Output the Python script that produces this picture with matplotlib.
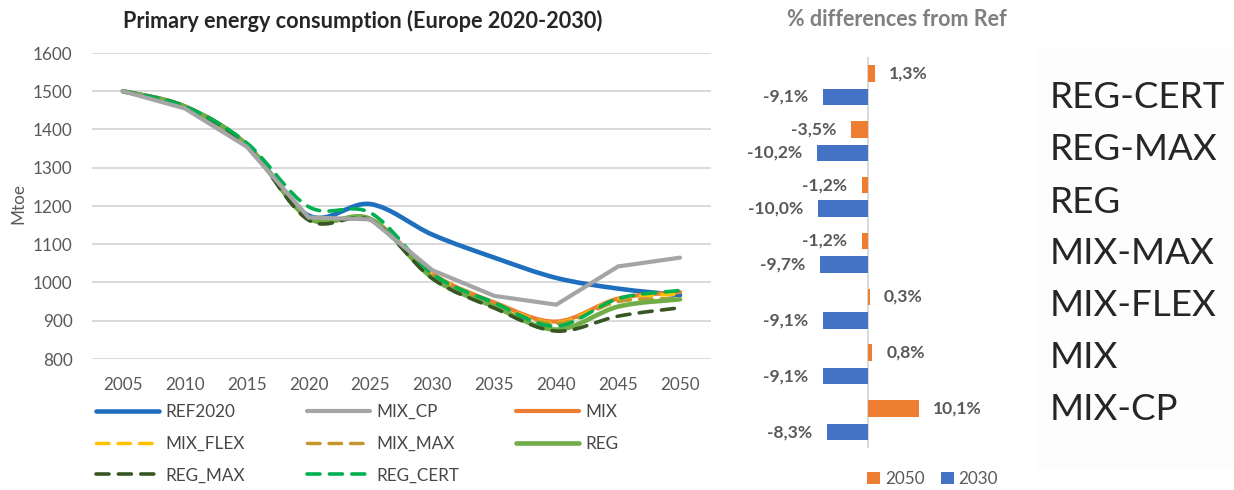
import numpy as np
import matplotlib
matplotlib.use('Agg')
import matplotlib.pyplot as plt
from matplotlib.path import Path
from matplotlib.patches import PathPatch, Rectangle
from matplotlib.lines import Line2D

plt.rcParams['font.family'] = ['Lato', 'DejaVu Sans']

# ---------------- data ----------------
years = ['2005', '2010', '2015', '2020', '2025', '2030', '2035', '2040', '2045', '2050']
ref2020 = [1500, 1460, 1360, 1175, 1205, 1125, 1065, 1012, 984, 967]
mix_cp = [1500, 1455, 1355, 1170, 1165, 1032, 965, 942, 1042, 1065]
mix = [1500, 1460, 1360, 1168, 1166, 1023, 948, 898, 958, 975]
mix_flex = [1500, 1460, 1360, 1168, 1166, 1023, 946, 895, 956, 970]
mix_max = [1500, 1460, 1360, 1168, 1166, 1016, 943, 893, 950, 958]
reg = [1500, 1460, 1360, 1168, 1166, 1012, 937, 877, 937, 956]
reg_max = [1500, 1460, 1358, 1163, 1163, 1010, 933, 873, 912, 934]
reg_cert = [1500, 1460, 1365, 1198, 1182, 1023, 947, 886, 958, 979]

series_names = ['REF2020', 'MIX_CP', 'MIX', 'MIX_FLEX', 'MIX_MAX', 'REG', 'REG_MAX', 'REG_CERT']

scenarios = ['REG-CERT', 'REG-MAX', 'REG', 'MIX-MAX', 'MIX-FLEX', 'MIX', 'MIX-CP']
diff_2050 = [1.3, -3.5, -1.2, -1.2, 0.3, 0.8, 10.1]
diff_2030 = [-9.1, -10.2, -10.0, -9.7, -9.1, -9.1, -8.3]

# ---------------- figure ----------------
W, H = 1234, 490
fig = plt.figure(figsize=(W / 100, H / 100), dpi=100)
fig.patch.set_facecolor('white')

def fx(px):
    return px / W

def fy(py):
    return 1 - py / H

GRAY_TXT = '#595959'
FS = 12.3

# ---------------- line chart ----------------
ax = fig.add_axes([fx(92), fy(359), fx(711) - fx(92), fy(53) - fy(359)])
x = np.arange(len(years))
ax.set_xlim(-0.5, len(years) - 0.5)
ax.set_ylim(800, 1600)
ax.set_yticks(np.arange(800, 1601, 100))
ax.set_xticks(x)
ax.set_xticklabels(years)
ax.grid(axis='y', color='#d9d9d9', lw=1.4)
ax.set_axisbelow(True)
for s in ax.spines.values():
    s.set_visible(False)
ax.tick_params(axis='both', length=0, labelsize=FS, labelcolor=GRAY_TXT)
ax.tick_params(axis='y', pad=14)
ax.tick_params(axis='x', pad=13)


def smooth_path(xs, ys):
    xs = np.asarray(xs, float)
    ys = np.asarray(ys, float)
    n = len(xs)
    pts = np.column_stack([xs, ys])
    verts = [tuple(pts[0])]
    codes = [Path.MOVETO]
    for i in range(n - 1):
        p0 = pts[max(i - 1, 0)]
        p1 = pts[i]
        p2 = pts[i + 1]
        p3 = pts[min(i + 2, n - 1)]
        c1 = p1 + (p2 - p0) / 6.0
        c2 = p2 - (p3 - p1) / 6.0
        verts += [tuple(c1), tuple(c2), tuple(p2)]
        codes += [Path.CURVE4] * 3
    return Path(verts, codes)

DASH = (0, (3.6, 2.6))
styles = [
    (ref2020, '#1f6fbf', 3.3, '-', True),
    (mix_cp, '#a5a5a5', 3.0, '-', False),
    (mix, '#ed7d31', 3.0, '-', True),
    (mix_flex, '#ffc000', 2.5, DASH, True),
    (mix_max, '#c4962e', 2.5, DASH, True),
    (reg, '#70ad47', 3.3, '-', True),
    (reg_max, '#375623', 2.6, DASH, True),
    (reg_cert, '#00b050', 2.6, DASH, True),
]

handles = []
for (vals, col, lw, ls, smooth), name in zip(styles, series_names):
    if smooth:
        patch = PathPatch(smooth_path(x, vals), fill=False, edgecolor=col, lw=lw,
                          linestyle=ls, capstyle='round', joinstyle='round')
        ax.add_patch(patch)
    else:
        ax.plot(x, vals, color=col, lw=lw, ls=ls, solid_capstyle='round',
                solid_joinstyle='miter')
    handles.append(Line2D([], [], color=col, lw=lw, ls=ls, solid_capstyle='round',
                          dash_capstyle='round', label=name))

fig.text(fx(18), fy(203), 'Mtoe', rotation=90, ha='center', va='center',
         fontsize=FS, color=GRAY_TXT)
fig.text(fx(363), fy(21), 'Primary energy consumption (Europe 2020-2030)',
         ha='center', va='center', fontsize=15.6, fontweight='bold', color='#262626')

# legend in three columns
col_x = [96, 307, 516]
for c in range(3):
    hs = handles[c::3]
    leg = ax.legend(handles=hs, loc='upper left',
                    bbox_to_anchor=(fx(col_x[c]), fy(404)),
                    bbox_transform=fig.transFigure, frameon=False, ncol=1,
                    fontsize=FS, handlelength=3.7, handletextpad=0.35,
                    borderpad=0, borderaxespad=0, labelspacing=0.92,
                    labelcolor='#474747')
    if c < 2:
        ax.add_artist(leg)

# ---------------- bar chart ----------------
zero_px = 868
px_per_pct = 5.0
left_px, right_px = 740, 1010
ax2 = fig.add_axes([fx(left_px), fy(448), fx(right_px) - fx(left_px), fy(57) - fy(448)])
ax2.set_xlim((left_px - zero_px) / px_per_pct, (right_px - zero_px) / px_per_pct)
ax2.set_ylim(len(scenarios) - 0.5, -0.5)
ax2.axis('off')
ax2.axvline(0, color='#d9d9d9', lw=1.4, zorder=0)

yy = np.arange(len(scenarios))
bh = 0.295
b50 = ax2.barh(yy - 0.206, diff_2050, height=bh, color='#ed7d31', label='2050', zorder=2)
b30 = ax2.barh(yy + 0.215, diff_2030, height=bh, color='#4472c4', label='2030', zorder=2)


def lab(v):
    return f'{v:.1f}'.replace('.', ',') + '%'

for vals, offs in ((diff_2050, -0.206), (diff_2030, 0.215)):
    for i, v in enumerate(vals):
        sgn = 1 if v >= 0 else -1
        ax2.annotate(lab(v), (v, i + offs), xytext=(sgn * 10.5, 0), textcoords='offset points',
                     ha='left' if v >= 0 else 'right', va='center', fontsize=12.6,
                     fontweight='bold', color=GRAY_TXT)

fig.text(fx(787), fy(20), '% differences from Ref', ha='left', va='center',
         fontsize=15.5, fontweight='bold', color='#7f7f7f')

fig.legend(handles=[b50, b30], loc='center left', bbox_to_anchor=(fx(867), fy(479)),
           frameon=False, ncol=2, fontsize=FS, handlelength=0.75, handleheight=0.75,
           handletextpad=0.3, columnspacing=0.95, borderpad=0, borderaxespad=0,
           labelcolor=GRAY_TXT)

# ---------------- scenario label column ----------------
fig.patches.append(Rectangle((fx(1036), fy(470)), fx(1234) - fx(1036), fy(48) - fy(470),
                             transform=fig.transFigure, facecolor='#fdfdfd',
                             edgecolor='none', zorder=0))
label_y = [98, 150, 202, 253, 305, 357, 409]
for name, yc in zip(scenarios, label_y):
    fig.text(fx(1050), fy(yc), name, ha='left', va='center', fontsize=26.5,
             color='#262626')

fig.savefig('out.png', dpi=100, facecolor='white')
